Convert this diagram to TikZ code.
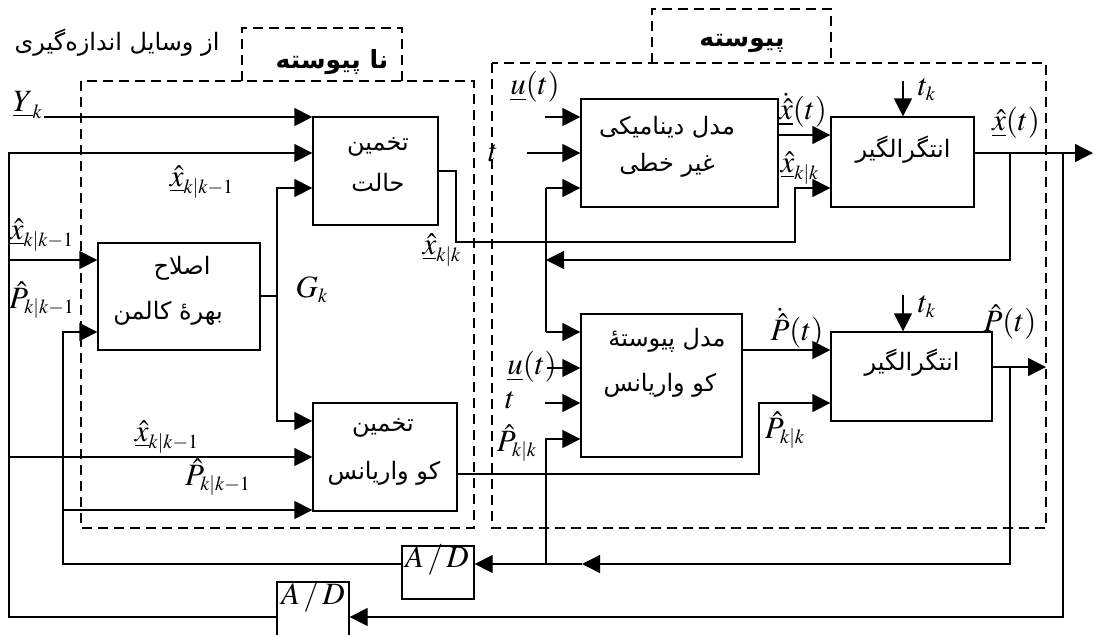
\documentclass[tikz,border=0pt]{standalone}
\usepackage{mathptmx}
\usepackage{fontspec}
\setmainfont{Liberation Serif}
\newfontfamily\fa[Script=Arabic]{DejaVu Sans}
\TeXXeTstate=1
\DeclareMathSizes{15.5}{15.5}{10}{8}
\usetikzlibrary{arrows.meta}
\newcommand\ulx{\underline{\hat{x}}}
\begin{document}
\begin{tikzpicture}[x=0.5pt,y=-0.5pt,
  ln/.style={line width=0.65pt},
  arr/.style={line width=0.65pt,-{Triangle[length=9pt,width=9pt]}},
  blk/.style={draw,line width=0.65pt,inner sep=0pt},
  dsh/.style={line width=0.6pt,dash pattern=on 5pt off 3pt},
  ml/.style={inner sep=0pt,font=\fontsize{15.5}{18}\selectfont},
  fat/.style={inner sep=0pt,font=\fontsize{12}{14}\fa\selectfont},
  fatb/.style={inner sep=0pt,font=\fontsize{12.5}{14}\fa\bfseries\selectfont}]
\clip (0,0) rectangle (1093,634);
\fill[white] (0,0) rectangle (1093,634);
% dashed regions
\draw[dsh] (81,81) rectangle (474,528);
\draw[dsh] (242,81) -- (242,28) -- (402,28) -- (402,81);
\draw[dsh] (492,63) rectangle (1046,528);
\draw[dsh] (652,63) -- (652,9) -- (831,9) -- (831,63);
\node[fatb] (tnp) at (332,62) {\beginR نا پیوسته\endR};
\node[fatb] (tp) at (742,43) {\beginR پیوسته\endR};
\node[fat] (ttl) at (117,43) {\beginR از وسایل اندازه‌گیری\endR};
% blocks
\node[blk,minimum width=62.5pt,minimum height=54pt] (se) at (375.5,171) {};
\node[blk,minimum width=81pt,minimum height=53.5pt] (kg) at (179,296.5) {};
\node[blk,minimum width=72pt,minimum height=54pt] (ce) at (385,457) {};
\node[blk,minimum width=98.5pt,minimum height=54pt] (dm) at (679.5,153) {};
\node[blk,minimum width=71.5pt,minimum height=45pt] (i1) at (902.5,162) {};
\node[blk,minimum width=80.5pt,minimum height=71.5pt] (cm) at (661.5,385.5) {};
\node[blk,minimum width=80.5pt,minimum height=44.5pt] (i2) at (911.5,376.5) {};
\node[blk,minimum width=36pt,minimum height=26.5pt] (ad1) at (438,572.5) {};
\node[blk,minimum width=36pt,minimum height=35pt] (ad2) at (313,617) {};
% block texts
\node[fat] (se1) at (378,147) {\beginR تخمین\endR};
\node[fat] (se2) at (378,182) {\beginR حالت\endR};
\node[fat] (kg1) at (182,268) {\beginR اصلاح\endR};
\node[fat] (kg2) at (168,313) {\beginR بهرهٔ کالمن\endR};
\node[fat] (ce1) at (383,428) {\beginR تخمین\endR};
\node[fat] (ce2) at (384,473) {\beginR کو واریانس\endR};
\node[fat] (dm1) at (667,127) {\beginR مدل دینامیکی\endR};
\node[fat] (dm2) at (667,165) {\beginR غیر خطی\endR};
\node[fat] (i1t) at (903,150) {\beginR انتگرالگیر\endR};
\node[fat] (cm1) at (667,340) {\beginR مدل پیوستهٔ\endR};
\node[fat] (cm2) at (660,385) {\beginR کو واریانس\endR};
\node[fat] (i2t) at (912,363) {\beginR انتگرالگیر\endR};
\node[ml] (lad1) at (437,560) {$A\,/\,D$};
\node[ml] (lad2) at (313,597) {$A\,/\,D$};
% math labels
\node[ml] (lYk) at (28,105) {$\underline{Y}_k$};
\node[ml] (lx1) at (202,182) {$\ulx_{k|k-1}$};
\node[ml] (lx2) at (42,235) {$\ulx_{k|k-1}$};
\node[ml] (lP1) at (42,300) {$\hat{P}_{k|k-1}$};
\node[ml] (lG) at (312,290) {$G_k$};
\node[ml] (lx3) at (442,250) {$\ulx_{k|k}$};
\node[ml] (lx4) at (167,437) {$\ulx_{k|k-1}$};
\node[ml] (lP2) at (218,477) {$\hat{P}_{k|k-1}$};
\node[ml] (lu1) at (535,87) {$\underline{u}(t)$};
\node[ml] (lt1) at (493,153) {$t$};
\node[ml] (lxd) at (803,110) {$\underline{\dot{\hat{x}}}(t)$};
\node[ml] (lx5) at (800,168) {$\ulx_{k|k}$};
\node[ml] (ltk1) at (927,90) {$t_k$};
\node[ml] (ltk2) at (927,307) {$t_k$};
\node[ml] (lxt) at (1016,123) {$\ulx(t)$};
\node[ml] (lu2) at (532,367) {$\underline{u}(t)$};
\node[ml] (lt2) at (510,400) {$t$};
\node[ml] (lP3) at (517,443) {$\hat{P}_{k|k}$};
\node[ml] (lPd) at (797,328) {$\dot{\hat{P}}(t)$};
\node[ml] (lP4) at (785,430) {$\hat{P}_{k|k}$};
\node[ml] (lPt) at (1010,322) {$\hat{P}(t)$};
% coordinates
\coordinate (yk) at (44,117);
\coordinate (lb) at (9,153);
\coordinate (lbk) at (9,260);
\coordinate (lbc) at (9,457);
\coordinate (pb) at (63,564);
\coordinate (pk) at (63,332);
\coordinate (pc) at (63,510);
\coordinate (gk) at (277,296);
\coordinate (gku) at (277,188);
\coordinate (gkd) at (277,421);
\coordinate (sxo) at (456,242);
\coordinate (sxi) at (795,188);
\coordinate (co) at (759,474);
\coordinate (ci) at (759,403);
\coordinate (dxo) at (778,135);
\coordinate (tk1) at (903,81);
\coordinate (tk2) at (903,295);
\coordinate (xo) at (1093,153);
\coordinate (t1) at (1010,153);
\coordinate (fb) at (546,260);
\coordinate (t2) at (1063,153);
\coordinate (va) at (546,188);
\coordinate (vb) at (546,332);
\coordinate (du) at (545,117);
\coordinate (dt) at (527,153);
\coordinate (cu) at (547,368);
\coordinate (ct) at (545,403);
\coordinate (cp) at (546,439);
\coordinate (cpb) at (546,564);
\coordinate (po) at (742,350);
\coordinate (pout) at (1046,367);
\coordinate (t3) at (1010,367);
\coordinate (m1) at (582,564);
% discrete part connectors
\draw[arr] (yk) -- (se.west |- yk);
\draw[arr] (ad2.west) -| (lb) -- (se.west |- lb);
\draw[arr] (lbk) -- (kg.west |- lbk);
\draw[arr] (lbc) -- (ce.west |- lbc);
\draw[arr] (ad1.west |- pb) -| (pk) -- (kg.west |- pk);
\draw[arr] (pc) -- (ce.west |- pc);
\draw[ln] (kg.east |- gk) -- (gk);
\draw[arr] (gk) -- (gku) -- (se.west |- gku);
\draw[arr] (gk) -- (gkd) -- (ce.west |- gkd);
\draw[arr] (se.east) -| (sxo) -| (sxi) -- (i1.west |- sxi);
\draw[arr] (ce.east |- co) -| (ci) -- (i2.west |- ci);
% continuous part connectors
\draw[arr] (du) -- (dm.west |- du);
\draw[arr] (dt) -- (dm.west |- dt);
\draw[arr] (va) -- (dm.west |- va);
\draw[ln] (va) -- (vb);
\draw[arr] (vb) -- (cm.west |- vb);
\draw[arr] (cu) -- (cm.west |- cu);
\draw[arr] (ct) -- (cm.west |- ct);
\draw[arr] (cpb) -- (cp) -- (cm.west |- cp);
\draw[arr] (dxo) -- (i1.west |- dxo);
\draw[arr] (cm.east |- po) -- (i2.west |- po);
\draw[arr] (tk1) -- (tk1 |- i1.north);
\draw[arr] (tk2) -- (tk2 |- i2.north);
\draw[arr] (i1.east |- xo) -- (xo);
\draw[arr] (t1) |- (fb);
\draw[arr] (t2) |- (ad2.east);
\draw[arr] (i2.east |- pout) -- (pout);
\draw[arr] (t3) |- (m1);
\draw[arr] (m1) -- (ad1.east |- m1);
\end{tikzpicture}
\end{document}
